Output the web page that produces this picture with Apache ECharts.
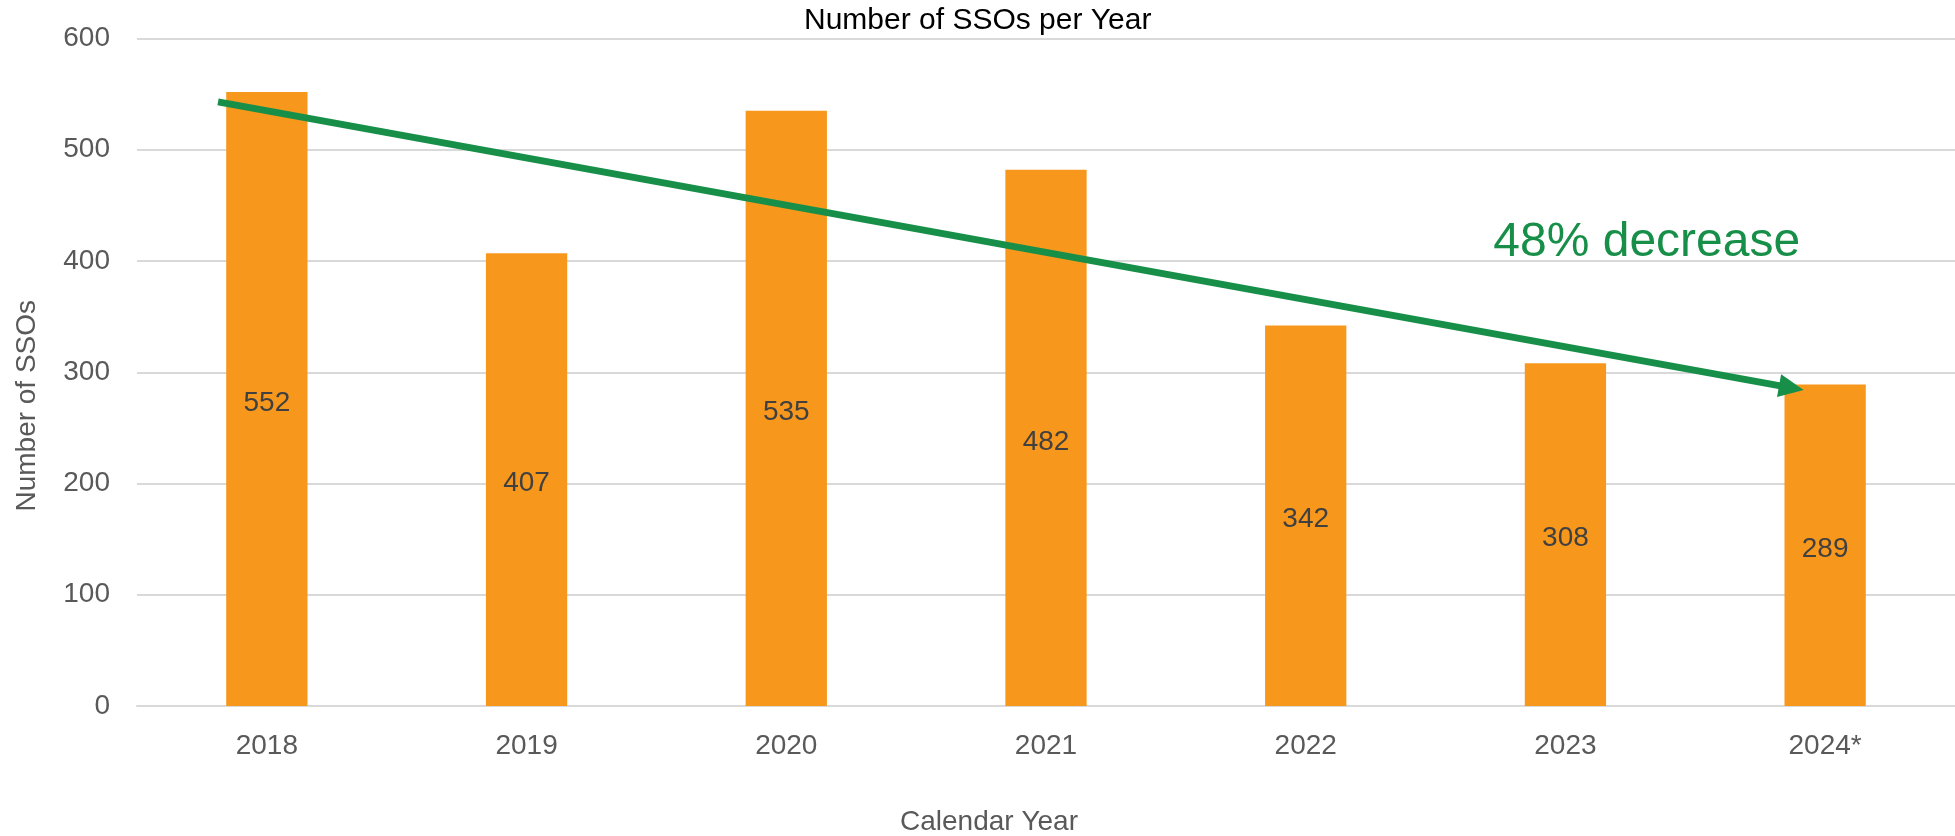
<!DOCTYPE html>
<html>
<head>
<meta charset="utf-8">
<script src="https://cdn.jsdelivr.net/npm/echarts@6/dist/echarts.min.js"></script>
<style>
html,body{margin:0;padding:0;background:#fff;}
#c{width:1955px;height:836px;}
</style>
</head>
<body>
<div id="c"></div>
<script>
const categories = ['2018', '2019', '2020', '2021', '2022', '2023', '2024*'];
const ssoCounts = [552, 407, 535, 482, 342, 308, 289];
const yTicks = [0, 100, 200, 300, 400, 500, 600];
// trend arrow endpoints in (category position, value) terms
const trendStart = [-0.188, 543];
const trendEnd = [5.87, 286];
const trendLabel = '48% decrease';
const trendLabelAt = [5.313, 416];

const FONT = "'Liberation Sans', Arial, sans-serif";
const chart = echarts.init(document.getElementById('c'));
chart.setOption({
  animation: false,
  backgroundColor: '#fff',
  title: {
    text: 'Number of SSOs per Year',
    left: 799, top: 1,
    textStyle: { fontFamily: FONT, fontSize: 30, fontWeight: 'normal', color: '#000' }
  },
  grid: { left: 137, right: 0, top: 38.5, bottom: 130, containLabel: false, outerBoundsMode: 'none' },
  xAxis: [{
    type: 'category',
    data: categories,
    name: 'Calendar Year',
    nameLocation: 'middle',
    nameGap: 102,
    nameTextStyle: { fontFamily: FONT, fontSize: 28, color: '#595959', padding: [0, 114, 0, 0] },
    axisLine: { lineStyle: { color: '#D9D9D9', width: 2 } },
    axisTick: { show: false },
    axisLabel: { fontFamily: FONT, fontSize: 28, color: '#595959', margin: 26 }
  }, {
    type: 'value', min: -0.5, max: 6.5, show: false
  }],
  yAxis: {
    type: 'value',
    min: yTicks[0], max: yTicks[yTicks.length - 1], interval: 100,
    name: 'Number of SSOs',
    nameLocation: 'middle',
    nameGap: 96,
    nameRotate: 90,
    nameTextStyle: { fontFamily: FONT, fontSize: 28, color: '#595959', padding: [0, 67, 0, 0] },
    axisLine: { show: false },
    axisTick: { show: false },
    splitLine: { lineStyle: { color: '#D9D9D9', width: 2 } },
    axisLabel: { fontFamily: FONT, fontSize: 28, color: '#595959', margin: 27 }
  },
  series: [{
    type: 'bar',
    data: ssoCounts,
    barWidth: '31.3%',
    itemStyle: { color: '#F7981D' },
    label: { show: true, position: 'inside', offset: [0, 4], fontFamily: FONT, fontSize: 28, color: '#404040' }
  }, {
    type: 'line',
    xAxisIndex: 1,
    yAxisIndex: 0,
    data: [],
    silent: true,
    markLine: {
      silent: true,
      symbol: ['none', 'triangle'],
      symbolSize: [23, 25],
      label: { show: false },
      lineStyle: { color: '#178F48', width: 7, type: 'solid' },
      data: [[{ coord: trendStart }, { coord: trendEnd }]]
    },
    markPoint: {
      silent: true,
      symbol: 'circle', symbolSize: 1,
      itemStyle: { color: 'rgba(0,0,0,0)' },
      label: { show: true, position: 'inside', formatter: trendLabel, fontFamily: FONT, fontSize: 48, color: '#178F48' },
      data: [{ coord: trendLabelAt }]
    }
  }]
});
</script>
</body>
</html>
